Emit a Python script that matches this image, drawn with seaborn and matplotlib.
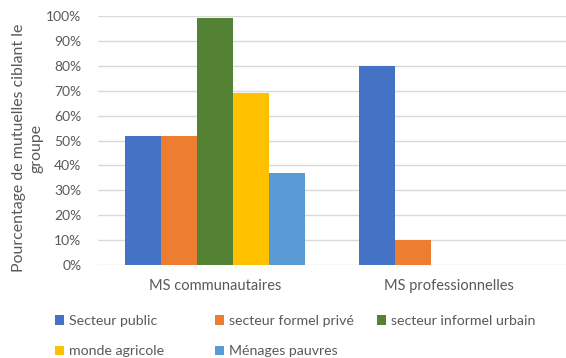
import matplotlib
matplotlib.use("Agg")
import matplotlib.pyplot as plt
import seaborn as sns
import pandas as pd
from matplotlib.ticker import FuncFormatter
from matplotlib.patches import Patch

groupes = ["MS communautaires", "MS professionnelles"]
cibles = ["Secteur public", "secteur formel privé", "secteur informel urbain",
          "monde agricole", "Ménages pauvres"]
communautaires = [52, 52, 99, 69, 37]
professionnelles = [80, 10, 0, 0, 0]
couleurs = ["#4472C4", "#ED7D31", "#548235", "#FFC000", "#5B9BD5"]
yticks = [0, 10, 20, 30, 40, 50, 60, 70, 80, 90, 100]

rows = []
for g, vals in zip(groupes, [communautaires, professionnelles]):
    for c, v in zip(cibles, vals):
        rows.append({"groupe": g, "cible": c, "valeur": v})
df = pd.DataFrame(rows)

sns.set_theme(style="white")
plt.rcParams["font.family"] = ["Lato", "DejaVu Sans"]
txt = "#595959"

W, H = 566, 358
fig = plt.figure(figsize=(W / 100, H / 100), dpi=100)
ax = fig.add_axes([98 / W, 93 / H, 1 - 98 / W, 249 / H])

sns.barplot(data=df, x="groupe", y="valeur", hue="cible", order=groupes,
            hue_order=cibles, palette=couleurs, saturation=1, width=0.77,
            gap=0, ax=ax, legend=False, errorbar=None, zorder=3,
            linewidth=0, edgecolor="none")

ax.set_ylim(0, 100)
ax.set_xlim(-0.5, 1.5)
ax.set_yticks(yticks)
ax.yaxis.set_major_formatter(FuncFormatter(lambda v, p: f"{int(v)}%"))
ax.grid(axis="y", color="#D9D9D9", linewidth=1, zorder=0)
ax.set_axisbelow(True)
for s in ax.spines.values():
    s.set_visible(False)
ax.tick_params(axis="both", length=0, colors=txt, labelsize=10)
ax.tick_params(axis="y", pad=12)
ax.tick_params(axis="x", pad=10)
for lab in ax.get_xticklabels():
    lab.set_fontsize(10.5)
ax.set_xlabel("")
ax.set_ylabel("")

fig.text(28 / W, 1 - 148 / H, "Pourcentage de mutuelles ciblant le\ngroupe",
         rotation=90, ha="center", va="center", multialignment="center",
         color=txt, fontsize=11.4, linespacing=1.35)

# Legend laid out as three equal-width columns, filled row by row
handles = [Patch(facecolor=c, edgecolor="none") for c in couleurs]
colonnes = [[0, 3], [1, 4], [2]]
x_cols = [45, 205, 367]
for xc, idx in zip(x_cols, colonnes):
    fig.legend([handles[i] for i in idx], [cibles[i] for i in idx],
               loc="upper left", bbox_to_anchor=(xc / W, 1 - 305 / H),
               frameon=False, fontsize=10.2, labelcolor=txt,
               handlelength=0.65, handleheight=0.65, handletextpad=0.35,
               labelspacing=1.3, borderpad=0.2)

fig.savefig("out.png", dpi=100)
